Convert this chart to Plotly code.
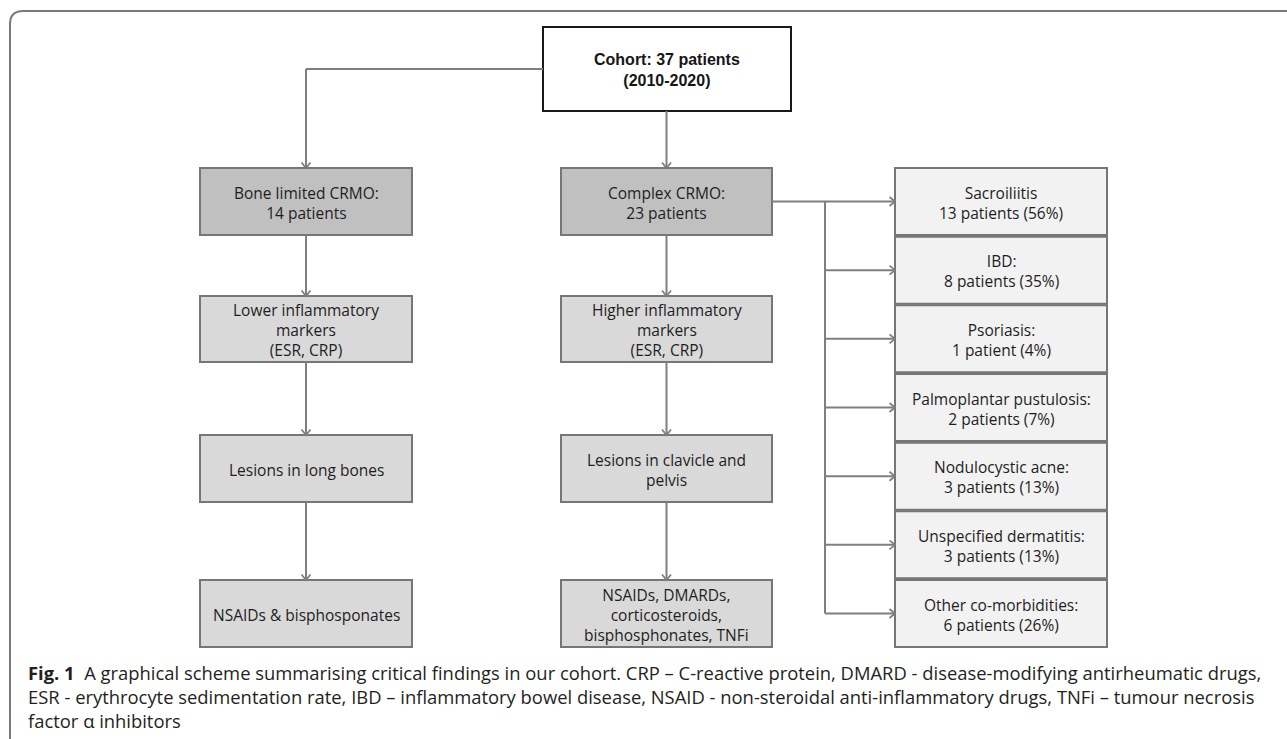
import plotly.graph_objects as go

W, H = 1287, 739

# ---------------- data ----------------
cohort_lines = ["Cohort: 37 patients", "(2010-2020)"]
group_names = ["Bone limited CRMO:", "Complex CRMO:"]
group_patients = [14, 23]
marker_texts = ["Lower inflammatory<br>markers<br>(ESR, CRP)",
                "Higher inflammatory<br>markers<br>(ESR, CRP)"]
lesion_texts = ["Lesions in long bones", "Lesions in clavicle and<br>pelvis"]
treatment_texts = ["NSAIDs & bisphosponates",
                   "NSAIDs, DMARDs,<br>corticosteroids,<br>bisphosphonates, TNFi"]
comorb_names = ["Sacroiliitis", "IBD:", "Psoriasis:", "Palmoplantar pustulosis:",
                "Nodulocystic acne:", "Unspecified dermatitis:", "Other co-morbidities:"]
comorb_patients = [13, 8, 1, 2, 3, 3, 6]
comorb_pct = [56, 35, 4, 7, 13, 13, 26]
caption_lines = [
    "<b>Fig. 1</b>\u00a0\u00a0A graphical scheme summarising critical findings in our cohort. CRP – C-reactive protein, DMARD - disease-modifying antirheumatic drugs,",
    "ESR - erythrocyte sedimentation rate, IBD – inflammatory bowel disease, NSAID - non-steroidal anti-inflammatory drugs, TNFi – tumour necrosis",
    "factor α inhibitors",
]

# ---------------- layout geometry (pixels) ----------------
cohort_box = (543, 791, 27, 111)
col_x = [(200, 412), (561, 772)]
rows_y = [(168, 235), (296, 362), (435, 502), (580, 647)]
right_x = (895, 1107)
right_top, right_pitch, right_h = 168, 68.67, 67
branch_x = 825
caption_y0, caption_step = 672, 24.2

LINE = "#7f7f7f"
BOX_LINE = "#767676"
TXT = "#1e1e1e"
FILLS = ["#c0c0c0", "#d9d9d9", "#d9d9d9", "#d9d9d9"]
RIGHT_FILL = "#f2f2f2"
BOX_FONT = dict(family="Open Sans, Noto Sans, sans-serif", size=15.5, color=TXT)

fig = go.Figure()
shapes = []
annotations = []


def box(x0, x1, y0, y1, fill, line=BOX_LINE, lw=2):
    shapes.append(dict(type="rect", x0=x0, x1=x1, y0=y0, y1=y1, xref="x", yref="y",
                       fillcolor=fill, line=dict(color=line, width=lw), layer="above"))


def label(x, y, text, font=BOX_FONT):
    annotations.append(dict(x=x, y=y, xref="x", yref="y", text=text, showarrow=False,
                            xanchor="center", yanchor="middle", align="center", font=font))


def seg(x0, y0, x1, y1):
    shapes.append(dict(type="line", x0=x0, y0=y0, x1=x1, y1=y1, xref="x", yref="y",
                       line=dict(color=LINE, width=2), layer="above"))


def head(x, y, direction):
    a, b = 4.5, 5.5
    if direction == "down":
        p = f"M {x-a},{y-b} L {x},{y} L {x+a},{y-b}"
    else:
        p = f"M {x-b},{y-a} L {x},{y} L {x-b},{y+a}"
    shapes.append(dict(type="path", path=p, xref="x", yref="y",
                       line=dict(color=LINE, width=1.8), layer="above"))


# outer frame (top-left rounded corner)
shapes.append(dict(type="path", path="M 10,739 L 10,24 Q 10,11 23,11 L 1287,11",
                   xref="x", yref="y", line=dict(color="#7a7a7a", width=2)))

# cohort box
cx0, cx1, cy0, cy1 = cohort_box
box(cx0, cx1, cy0, cy1, "#ffffff", line="#1a1a1a", lw=2)
label((cx0 + cx1) / 2, (cy0 + cy1) / 2 + 1, "<b>" + "<br>".join(cohort_lines) + "</b>",
      font=dict(family="Liberation Sans, Arial, sans-serif", size=16, color="#161616"))

# connectors from cohort
lc = (col_x[0][0] + col_x[0][1]) / 2
mc = (col_x[1][0] + col_x[1][1]) / 2
ymid_c = 69
seg(cx0, ymid_c, lc, ymid_c)
seg(lc, ymid_c, lc, rows_y[0][0])
head(lc, rows_y[0][0], "down")
seg(mc, cy1, mc, rows_y[0][0])
head(mc, rows_y[0][0], "down")

# two columns
for ci, (x0, x1) in enumerate(col_x):
    xc = (x0 + x1) / 2
    texts = [f"{group_names[ci]}<br>{group_patients[ci]} patients",
             marker_texts[ci], lesion_texts[ci], treatment_texts[ci]]
    for ri, (y0, y1) in enumerate(rows_y):
        box(x0, x1, y0, y1, FILLS[ri])
        label(xc, (y0 + y1) / 2 + 1, texts[ri])
        if ri > 0:
            seg(xc, rows_y[ri - 1][1], xc, y0)
            head(xc, y0, "down")

# right column comorbidities
rx0, rx1 = right_x
yc_first = None
yc_last = None
for i, name in enumerate(comorb_names):
    y0 = right_top + i * right_pitch
    y1 = y0 + right_h
    yc = (y0 + y1) / 2
    if yc_first is None:
        yc_first = yc
    yc_last = yc
    box(rx0, rx1, y0, y1, RIGHT_FILL)
    pl = "patient" if comorb_patients[i] == 1 else "patients"
    label((rx0 + rx1) / 2, yc + 1, f"{name}<br>{comorb_patients[i]} {pl} ({comorb_pct[i]}%)")
    seg(branch_x, yc, rx0, yc)
    head(rx0, yc, "right")

seg(col_x[1][1], yc_first, branch_x, yc_first)
seg(branch_x, yc_first, branch_x, yc_last)

# caption (one annotation per line for exact spacing)
for k, line_text in enumerate(caption_lines):
    annotations.append(dict(x=26, y=caption_y0 + k * caption_step, xref="x", yref="y",
                            text=line_text, showarrow=False, xanchor="left", yanchor="middle",
                            align="left",
                            font=dict(family="Open Sans, Noto Sans, sans-serif", size=18.4,
                                      color="#231f20")))

fig.update_layout(
    width=W, height=H, margin=dict(l=0, r=0, t=0, b=0),
    paper_bgcolor="white", plot_bgcolor="white",
    xaxis=dict(range=[0, W], visible=False, fixedrange=True),
    yaxis=dict(range=[H, 0], visible=False, fixedrange=True),
    shapes=shapes, annotations=annotations, showlegend=False,
)

fig.write_html("out.html", config={"displayModeBar": False},
               post_script="document.body.style.margin='0';")
